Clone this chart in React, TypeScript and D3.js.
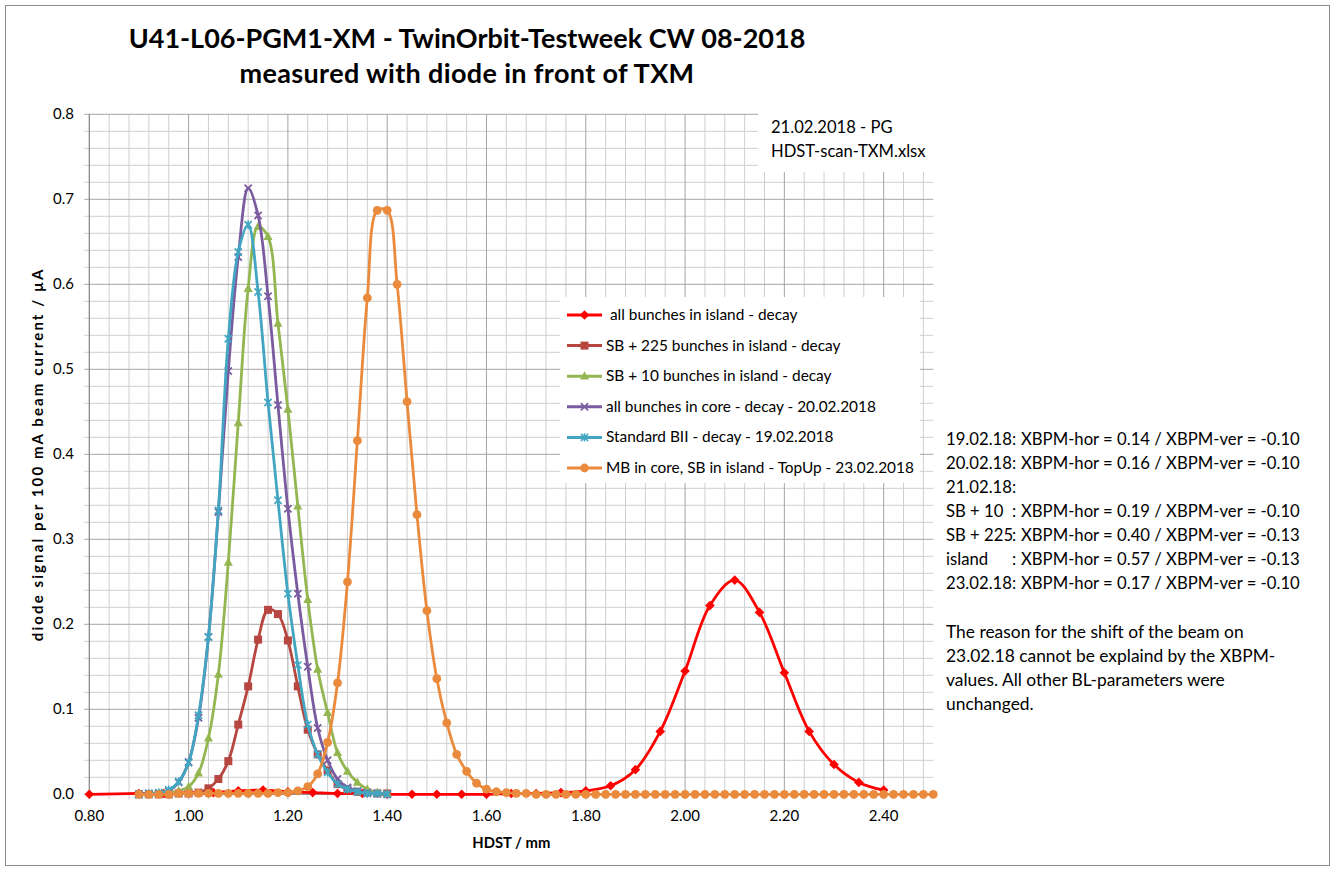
import React from 'react';
import * as d3 from 'd3';

// ---------------- DATA ----------------
const seriesNames = [
  ' all bunches in island - decay',
  'SB + 225 bunches in island - decay',
  'SB + 10 bunches in island - decay',
  'all bunches in core - decay - 20.02.2018',
  'Standard BII - decay - 19.02.2018',
  'MB in core, SB in island - TopUp - 23.02.2018',
];

const xIsland = [0.80, 0.90, 0.95, 1.00, 1.05, 1.10, 1.15, 1.20, 1.25, 1.30, 1.35, 1.40, 1.45, 1.50, 1.55, 1.60,
  1.65, 1.70, 1.75, 1.80, 1.85, 1.90, 1.95, 2.00, 2.05, 2.10, 2.15, 2.20, 2.25, 2.30, 2.35, 2.40];
const yIsland = [0.000, 0.001, 0.001, 0.002, 0.002, 0.004, 0.005, 0.003, 0.002, 0.001, 0.001, 0.000, 0.000, 0.000, 0.000, 0.000,
  0.001, 0.001, 0.002, 0.004, 0.010, 0.029, 0.074, 0.145, 0.222, 0.252, 0.214, 0.143, 0.074, 0.035, 0.014, 0.005];

const xScan = [0.90, 0.92, 0.94, 0.96, 0.98, 1.00, 1.02, 1.04, 1.06, 1.08, 1.10, 1.12, 1.14, 1.16, 1.18, 1.20,
  1.22, 1.24, 1.26, 1.28, 1.30, 1.32, 1.34, 1.36, 1.38, 1.40];
const ySB225 = [0.000, 0.000, 0.000, 0.000, 0.001, 0.001, 0.002, 0.007, 0.018, 0.039, 0.082, 0.127, 0.182, 0.217, 0.212, 0.181,
  0.127, 0.076, 0.047, 0.028, 0.012, 0.006, 0.003, 0.002, 0.001, 0.001];
const ySB10 = [0.000, 0.000, 0.001, 0.002, 0.004, 0.009, 0.025, 0.066, 0.141, 0.273, 0.437, 0.595, 0.668, 0.656, 0.554, 0.453,
  0.339, 0.229, 0.147, 0.096, 0.049, 0.027, 0.014, 0.006, 0.002, 0.001];
const yCore = [0.000, 0.001, 0.001, 0.004, 0.014, 0.038, 0.090, 0.185, 0.332, 0.498, 0.632, 0.713, 0.681, 0.586, 0.458, 0.336,
  0.236, 0.150, 0.078, 0.040, 0.018, 0.008, 0.004, 0.002, 0.001, 0.000];
const yStandard = [0.000, 0.001, 0.002, 0.005, 0.015, 0.037, 0.093, 0.185, 0.334, 0.536, 0.638, 0.670, 0.591, 0.461, 0.346, 0.236,
  0.152, 0.082, 0.047, 0.026, 0.012, 0.006, 0.003, 0.001, 0.001, 0.000];

const xTopUp = [0.90, 0.92, 0.94, 0.96, 0.98, 1.00, 1.02, 1.04, 1.06, 1.08, 1.10, 1.12, 1.14, 1.16, 1.18, 1.20,
  1.22, 1.24, 1.26, 1.28, 1.30, 1.32, 1.34, 1.36, 1.38, 1.40, 1.42, 1.44, 1.46, 1.48, 1.50, 1.52,
  1.54, 1.56, 1.58, 1.60, 1.62, 1.64, 1.66, 1.68, 1.70, 1.72, 1.74, 1.76, 1.78, 1.80, 1.82, 1.84,
  1.86, 1.88, 1.90, 1.92, 1.94, 1.96, 1.98, 2.00, 2.02, 2.04, 2.06, 2.08, 2.10, 2.12, 2.14, 2.16,
  2.18, 2.20, 2.22, 2.24, 2.26, 2.28, 2.30, 2.32, 2.34, 2.36, 2.38, 2.40, 2.42, 2.44, 2.46, 2.48, 2.50];
const yTopUp = [0.000, 0.000, 0.000, 0.000, 0.001, 0.001, 0.001, 0.001, 0.001, 0.001, 0.001, 0.001, 0.001, 0.001, 0.002, 0.002,
  0.004, 0.009, 0.024, 0.061, 0.131, 0.250, 0.416, 0.584, 0.687, 0.687, 0.600, 0.462, 0.329, 0.216, 0.136, 0.084,
  0.047, 0.027, 0.013, 0.006, 0.003, 0.002, 0.001, 0.001, 0.000, 0.000, 0.000, 0.000, 0.000, 0.000, 0.000, 0.000,
  0.000, 0.000, 0.000, 0.000, 0.000, 0.000, 0.000, 0.000, 0.000, 0.000, 0.000, 0.000, 0.000, 0.000, 0.000, 0.000,
  0.000, 0.000, 0.000, 0.000, 0.000, 0.000, 0.000, 0.000, 0.000, 0.000, 0.000, 0.000, 0.000, 0.000, 0.000, 0.000, 0.000];

const xTickLabels = ['0.80', '1.00', '1.20', '1.40', '1.60', '1.80', '2.00', '2.20', '2.40'];
const yTickLabels = ['0.0', '0.1', '0.2', '0.3', '0.4', '0.5', '0.6', '0.7', '0.8'];

const titleLines = ['U41-L06-PGM1-XM - TwinOrbit-Testweek CW 08-2018', 'measured with diode in front of TXM'];
const noteLines = ['21.02.2018 - PG', 'HDST-scan-TXM.xlsx'];
const xbpmLines = [
  ['19.02.18:', '', 'XBPM-hor = 0.14 / XBPM-ver = -0.10'],
  ['20.02.18:', '', 'XBPM-hor = 0.16 / XBPM-ver = -0.10'],
  ['21.02.18:', '', ''],
  ['SB + 10', ':', 'XBPM-hor = 0.19 / XBPM-ver = -0.10'],
  ['SB + 225', ':', 'XBPM-hor = 0.40 / XBPM-ver = -0.13'],
  ['island', ':', 'XBPM-hor = 0.57 / XBPM-ver = -0.13'],
  ['23.02.18:', '', 'XBPM-hor = 0.17 / XBPM-ver = -0.10'],
];
const reasonLines = [
  'The reason for the shift of the beam on',
  '23.02.18 cannot be explaind by the XBPM-',
  'values. All other BL-parameters were',
  'unchanged.',
];

// ---------------- STYLE ----------------
const seriesX = [xIsland, xScan, xScan, xScan, xScan, xTopUp];
const seriesY = [yIsland, ySB225, ySB10, yCore, yStandard, yTopUp];
const colors = ['#FF0000', '#B6463F', '#93B651', '#7B5B9F', '#42A6C2', '#EA8A3C'];
const markers = ['diamond', 'square', 'triangle', 'x', 'star', 'circle'];

const W = 1335;
const H = 871;
const FONT = 'Lato, "Open Sans", sans-serif';

const x = d3.scaleLinear().domain([0.8, 2.5]).range([89.3, 933.3]);
const y = d3.scaleLinear().domain([0, 0.8]).range([794.3, 114.3]);

function Marker({ type, cx, cy, color }: { type: string; cx: number; cy: number; color: string }) {
  switch (type) {
    case 'diamond':
      return <path d={`M${cx},${cy - 4.8}L${cx + 4.8},${cy}L${cx},${cy + 4.8}L${cx - 4.8},${cy}Z`} fill={color} />;
    case 'square':
      return <rect x={cx - 4} y={cy - 4} width={8} height={8} fill={color} />;
    case 'triangle':
      return <path d={`M${cx},${cy - 5}L${cx + 4.5},${cy + 3.4}L${cx - 4.5},${cy + 3.4}Z`} fill={color} />;
    case 'x':
      return (
        <path d={`M${cx - 3.6},${cy - 3.6}L${cx + 3.6},${cy + 3.6}M${cx - 3.6},${cy + 3.6}L${cx + 3.6},${cy - 3.6}`}
          stroke={color} strokeWidth={1.7} fill="none" />
      );
    case 'star':
      return (
        <path d={`M${cx - 3.6},${cy - 3.6}L${cx + 3.6},${cy + 3.6}M${cx - 3.6},${cy + 3.6}L${cx + 3.6},${cy - 3.6}M${cx},${cy - 4.2}L${cx},${cy + 4.2}`}
          stroke={color} strokeWidth={1.7} fill="none" />
      );
    default:
      return <circle cx={cx} cy={cy} r={4.4} fill={color} />;
  }
}

export default function App() {
  const line = d3
    .line<[number, number]>()
    .x((d) => x(d[0]))
    .y((d) => y(d[1]))
    .curve(d3.curveCatmullRom.alpha(0.5));

  const vMinor = d3.range(0.8, 2.5, 0.04).map((v) => +v.toFixed(2));
  const hMinor = d3.range(0, 0.8001, 0.02).map((v) => +v.toFixed(2));
  const isMajorX = (v: number) => Math.abs(Math.round((v - 0.8) / 0.2) * 0.2 - (v - 0.8)) < 1e-6;
  const isMajorY = (v: number) => Math.abs(Math.round(v / 0.1) * 0.1 - v) < 1e-6;

  const [x0, x1] = x.range();
  const [y0, y1] = y.range();

  return (
    <svg width={W} height={H} style={{ position: 'absolute', left: 0, top: 0, background: '#fff' }} fontFamily={FONT}>
      <rect x={0} y={0} width={W} height={H} fill="#fff" />
      <rect x={5.5} y={5.5} width={1324} height={860} fill="none" stroke="#8c8c8c" strokeWidth={1} />

      {/* title */}
      {titleLines.map((t, i) => (
        <text key={t} x={467} y={48 + i * 35} textAnchor="middle" fontSize={27} fontWeight="bold" fill="#000"
          letterSpacing={i === 1 ? 0.35 : 0}>
          {t}
        </text>
      ))}

      {/* grid */}
      <g>
        {hMinor.filter((v) => !isMajorY(v)).map((v) => (
          <line key={'hm' + v} x1={x0 - 5} x2={x1} y1={y(v)} y2={y(v)} stroke="#cfcfcf" strokeWidth={1} />
        ))}
        {vMinor.filter((v) => !isMajorX(v)).map((v) => (
          <line key={'vm' + v} x1={x(v)} x2={x(v)} y1={y1} y2={y0 + 5} stroke="#cfcfcf" strokeWidth={1} />
        ))}
        {hMinor.filter((v) => isMajorY(v)).map((v) => (
          <line key={'hM' + v} x1={x0 - 5} x2={x1} y1={y(v)} y2={y(v)} stroke="#a4a4a4" strokeWidth={1} />
        ))}
        {vMinor.filter((v) => isMajorX(v)).map((v) => (
          <line key={'vM' + v} x1={x(v)} x2={x(v)} y1={y1} y2={y0 + 5} stroke="#a4a4a4" strokeWidth={1} />
        ))}
        <line x1={x0} x2={x0} y1={y1} y2={y0} stroke="#868686" strokeWidth={1} />
        <line x1={x0} x2={x1} y1={y0} y2={y0} stroke="#868686" strokeWidth={1} />
      </g>

      {/* note box top right */}
      <rect x={758} y={100} width={180} height={72} fill="#fff" />
      {noteLines.map((t, i) => (
        <text key={t} x={771} y={133 + i * 23.5} fontSize={16.6} fill="#000">
          {t}
        </text>
      ))}

      {/* tick labels */}
      {xTickLabels.map((t) => (
        <text key={t} x={x(+t)} y={821} textAnchor="middle" fontSize={15} fill="#000">
          {t}
        </text>
      ))}
      {yTickLabels.map((t) => (
        <text key={t} x={74} y={y(+t) + 5} textAnchor="end" fontSize={15} fill="#000">
          {t}
        </text>
      ))}

      {/* axis titles */}
      <text x={(x0 + x1) / 2} y={848} textAnchor="middle" fontSize={14.8} fontWeight="bold">
        HDST / mm
      </text>
      <text transform={`translate(43,${(y0 + y1) / 2}) rotate(-90)`} textAnchor="middle" fontSize={15}
        fontWeight="bold" letterSpacing={2.1}>
        diode signal per 100 mA beam current / µA
      </text>

      {/* series */}
      {seriesX.map((xs, si) => {
        const pts: [number, number][] = xs.map((xv, k) => [xv, seriesY[si][k]]);
        return (
          <g key={'s' + si}>
            <path d={line(pts) || ''} fill="none" stroke={colors[si]} strokeWidth={2.8} strokeLinejoin="round" />
            {pts.map((p, k) => (
              <Marker key={k} type={markers[si]} cx={x(p[0])} cy={y(p[1])} color={colors[si]} />
            ))}
          </g>
        );
      })}

      {/* legend */}
      <rect x={560} y={297} width={360} height={186} fill="#fff" />
      {seriesNames.map((n, i) => {
        const cy = 315 + i * 30.6;
        return (
          <g key={n}>
            <line x1={567} x2={602} y1={cy} y2={cy} stroke={colors[i]} strokeWidth={3} />
            <Marker type={markers[i]} cx={584.5} cy={cy} color={colors[i]} />
            <text x={606} y={cy + 5} fontSize={15.4} fill="#000" style={{ whiteSpace: 'pre' }}>
              {n}
            </text>
          </g>
        );
      })}

      {/* XBPM annotation */}
      {xbpmLines.map((l, i) => {
        const by = 445 + i * 24;
        return (
          <g key={'xb' + i}>
            <text x={946} y={by} fontSize={16.7} fill="#000">
              {l[0]}
            </text>
            {l[1] && (
              <text x={1012} y={by} fontSize={16.7} fill="#000">
                {l[1]}
              </text>
            )}
            {l[2] && (
              <text x={1021} y={by} fontSize={16.7} fill="#000">
                {l[2]}
              </text>
            )}
          </g>
        );
      })}
      {reasonLines.map((t, i) => (
        <text key={t} x={946} y={638 + i * 24} fontSize={17.4} fill="#000">
          {t}
        </text>
      ))}
    </svg>
  );
}
